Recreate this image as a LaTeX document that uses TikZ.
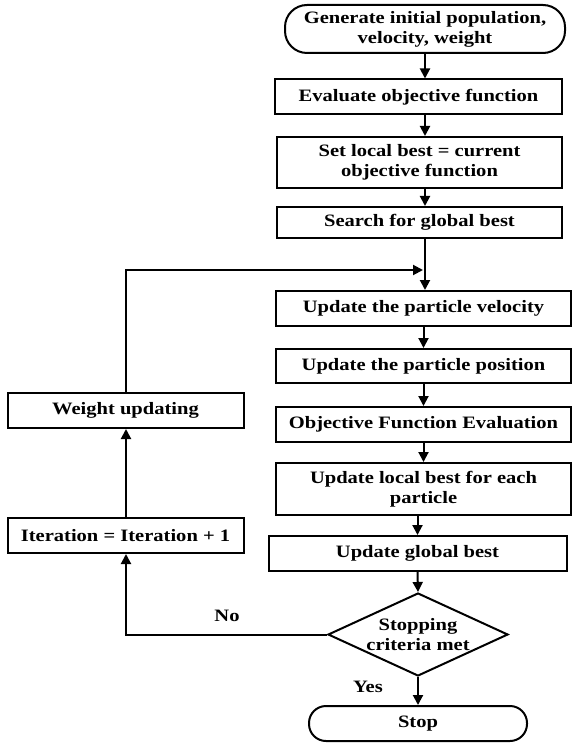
\documentclass[tikz,border=0pt]{standalone}
\usepackage{fontspec}
\setmainfont{Liberation Serif}[FakeStretch=1.18]
\usetikzlibrary{arrows.meta,shapes.geometric,calc}
\begin{document}
\begin{tikzpicture}[x=1pt,y=-1pt,
  line width=2pt,
  every node/.style={font=\fontsize{17.4}{20}\selectfont\bfseries, align=center, inner sep=0pt},
  procbox/.style={draw, rectangle, minimum height=35pt},
  termbox/.style={draw, rectangle, rounded corners=18pt},
  decbox/.style={draw, diamond, aspect=2.17, minimum width=180pt, minimum height=83pt},
  arr/.style={-{Triangle[length=10pt,width=10pt]}},
  lbl/.style={font=\fontsize{17.4}{20}\selectfont\bfseries}]
\useasboundingbox (0,0) rectangle (572,743);

\node[termbox, minimum width=280pt, minimum height=48pt, rounded corners=22pt] (start) at (425,29) {Generate initial population,\\velocity, weight};
\node[procbox, minimum width=287pt] (eval) at (418.5,97) {Evaluate objective function};
\node[procbox, minimum width=285pt, minimum height=51pt] (setlb) at (419.5,162.5) {Set local best = current\\objective function};
\node[procbox, minimum width=285pt, minimum height=31pt] (search) at (419.5,222.5) {Search for global best};
\coordinate (junc) at (425,270);
\node[procbox, minimum width=295pt] (vel) at (423.5,308.5) {Update the particle velocity};
\node[procbox, minimum width=295pt, minimum height=34pt] (pos) at (423.5,366) {Update the particle position};
\node[procbox, minimum width=295pt] (obj) at (423.5,424.5) {Objective Function Evaluation};
\node[procbox, minimum width=295pt, minimum height=52pt] (lb) at (423.5,489) {Update local best for each\\particle};
\node[procbox, minimum width=298pt] (gb) at (417.5,553.5) {Update global best};
\node[decbox] (dia) at (418,634.5) {Stopping\\criteria met};
\node[termbox, minimum width=218pt, minimum height=35pt, rounded corners=17pt] (stop) at (418,723.5) {Stop};
\node[procbox, minimum width=236pt] (weight) at (125.5,410.5) {Weight updating};
\node[procbox, minimum width=236pt] (iter) at (125.5,535.5) {Iteration = Iteration + 1};
\coordinate (lefttop) at (126,270);
\coordinate (leftbot) at (126,634.5);

\draw[arr] (start.south) -- (start.south |- eval.north);
\draw[arr] (eval.south -| start) -- (setlb.north -| start);
\draw[arr] (setlb.south -| start) -- (search.north -| start);
\draw (search.south -| start) -- (junc);
\draw[arr] (junc) -- (junc |- vel.north);
\draw[arr] (vel.south) -- (pos.north);
\draw[arr] (pos.south) -- (obj.north);
\draw[arr] (obj.south) -- (lb.north);
\draw[arr] (lb.south -| gb) -- (gb.north);
\draw[arr] (gb.south) -- (dia.north);
\draw[arr] (dia.south) -- (stop.north);
\draw[arr] (dia.west) -- (leftbot) -- (iter.south -| leftbot);
\draw[arr] (iter.north -| leftbot) -- (weight.south -| leftbot);
\draw[arr] (weight.north -| lefttop) -- (lefttop) -- ($(junc)+(-2,0)$);

\node[lbl] (nolbl) at (227,616) {No};
\node[lbl] (yeslbl) at (368,687) {Yes};
\end{tikzpicture}
\end{document}
